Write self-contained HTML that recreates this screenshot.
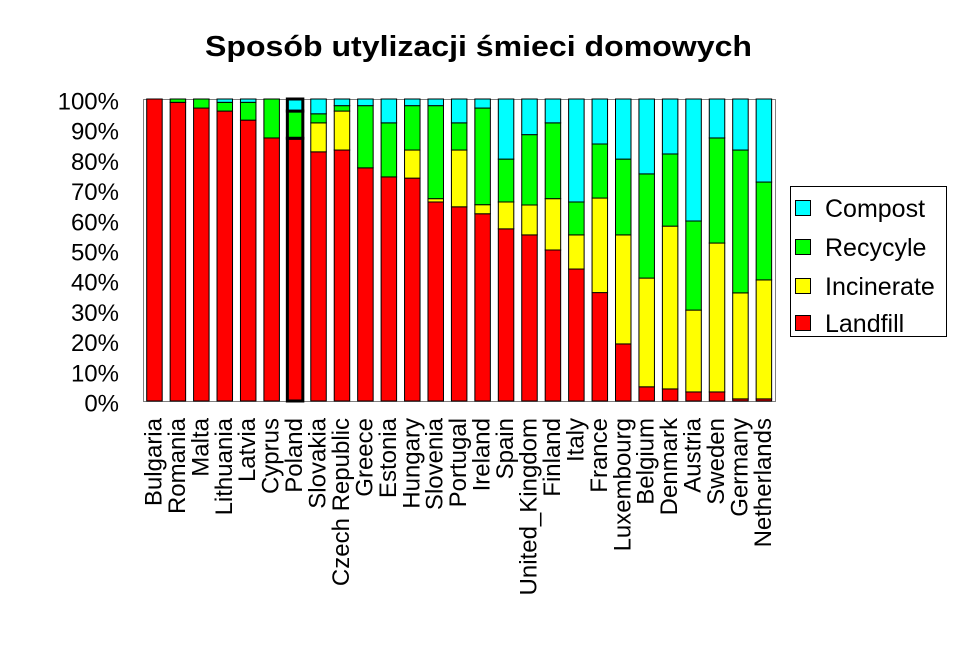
<!DOCTYPE html>
<html><head><meta charset="utf-8"><style>html,body{margin:0;padding:0;background:#fff}svg{display:block}</style></head>
<body>
<svg width="960" height="661" xmlns="http://www.w3.org/2000/svg" font-family="Liberation Sans, Arial, sans-serif">
<text x="205" y="56" font-size="29" font-weight="bold" textLength="547" lengthAdjust="spacingAndGlyphs">Sposób utylizacji śmieci domowych</text>
<g font-size="24" text-anchor="end" id="yl"></g>
<rect x="143.5" y="99.5" width="632" height="302" fill="#fff" stroke="#808080" stroke-width="1"/>
<g id="bars" stroke="#000" stroke-width="1"></g>
<g id="xl" font-size="24" text-anchor="end"></g>
<rect x="790.5" y="186.5" width="156" height="150" fill="#fff" stroke="#000"/>
<rect x="795.5" y="200.5" width="15" height="15" fill="#00ffff" stroke="#000"/>
<rect x="795.5" y="239.5" width="15" height="15" fill="#00ff00" stroke="#000"/>
<rect x="795.5" y="278.5" width="15" height="15" fill="#ffff00" stroke="#000"/>
<rect x="795.5" y="315.5" width="15" height="15" fill="#ff0000" stroke="#000"/>
<g font-size="25"><text x="825" y="217">Compost</text><text x="825" y="256">Recycyle</text><text x="825" y="295">Incinerate</text><text x="825" y="332">Landfill</text></g>
</svg>
<script>
var ns="http://www.w3.org/2000/svg";
function el(t,a,p,txt){var e=document.createElementNS(ns,t);for(var k in a)e.setAttribute(k,a[k]);if(txt)e.textContent=txt;p.appendChild(e);return e;}
var yl=document.getElementById('yl');
for(var i=0;i<=10;i++){var y=401-i*30.2;el('text',{x:119,y:y+10.5},yl,(i*10)+'%');}
var d=[["Bulgaria",100,100,100],["Romania",98.9,98.9,100],["Malta",97,97,100],["Lithuania",96,96,98.9],["Latvia",93,93,98.9],["Cyprus",87.1,87.1,100],["Poland",87,87,96],["Slovakia",82.5,92.1,95.1],["Czech Republic",83.1,96,97.8],["Greece",77.2,77.2,97.8],["Estonia",74.2,74.2,92.1],["Hungary",73.8,83.1,97.8],["Slovenia",65.9,67,97.8],["Portugal",64.3,83.1,92.1],["Ireland",62,65,97],["Spain",57,65.9,80.1],["United_Kingdom",55,64.9,88.2],["Finland",50,67,92.1],["Italy",43.7,55,65.9],["France",35.9,67.2,85.1],["Luxembourg",18.9,55,80.1],["Belgium",4.7,40.7,75.2],["Denmark",4,57.9,81.8],["Austria",3,30.1,59.6],["Sweden",3,52.3,87.1],["Germany",0.7,35.8,83.1],["Netherlands",0.7,40.1,72.5]];
var bars=document.getElementById('bars'),xl=document.getElementById('xl');
var cols=["#ff0000","#ffff00","#00ff00","#00ffff"];
function Y(v){return 401-v*3.02;}
d.forEach(function(r,i){
 var x=146.7+i*23.44,w=15.5,b=[0,r[1],r[2],r[3],100];
 for(var k=0;k<4;k++){if(b[k+1]-b[k]>0.05){var sw=(i==6)?3:1;el('rect',{x:x,y:Y(b[k+1]),width:w,height:Y(b[k])-Y(b[k+1]),fill:cols[k],'stroke-width':sw},bars);}}
 var cx=x+w/2+7;
 el('text',{transform:'translate('+cx+',418) rotate(-90)'},xl,r[0]);
});
</script>
</body></html>
